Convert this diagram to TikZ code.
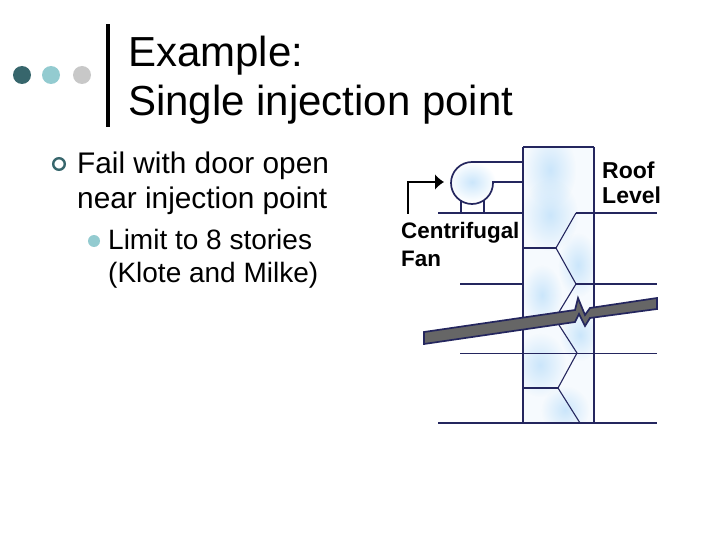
\documentclass[tikz,border=0pt]{standalone}
\usepackage{fontspec}
\usetikzlibrary{fadings,arrows.meta}
\setmainfont{Liberation Sans}
\definecolor{dotdark}{HTML}{37666C}
\definecolor{dotmid}{HTML}{93CBD0}
\definecolor{dotgrey}{HTML}{C8C8C8}
\definecolor{navy}{HTML}{24265E}
\definecolor{band}{HTML}{666666}
\definecolor{haze}{HTML}{CBE6FB}
\tikzfading[name=fuzz,inner color=transparent!0,outer color=transparent!100]
\tikzset{
  titletext/.style={anchor=base west,inner sep=0pt,font=\fontsize{42}{42}\selectfont},
  bodytext/.style={anchor=base west,inner sep=0pt,font=\fontsize{29.8}{30}\selectfont},
  subtext/.style={anchor=base west,inner sep=0pt,font=\fontsize{28}{28}\selectfont},
  figtext/.style={anchor=base west,inner sep=0pt,font=\bfseries\fontsize{22.4}{22.4}\selectfont},
  wall/.style={navy,line width=1.7pt},
  thinwall/.style={navy,line width=1.1pt},
  blur/.style={fill=haze,path fading=fuzz,draw=none}
}
\begin{document}
\begin{tikzpicture}[x=1pt,y=-1pt]
\useasboundingbox (0,0) rectangle (720,540);

% header
\fill[dotdark] (22,75) circle (9);
\fill[dotmid] (51,75) circle (9);
\fill[dotgrey] (82,75) circle (9);
\fill[black] (106,24) rectangle (110,127);
\node[titletext] (title1) at (128,67) {Example:};
\node[titletext] (title2) at (128,116) {Single injection point};

% bullets
\draw[dotdark,line width=2.4pt] (59,164) circle (5.8);
\node[bodytext] (fail1) at (77,174) {Fail with door open};
\node[bodytext] (fail2) at (77,209) {near injection point};
\fill[dotmid] (94,241) circle (6);
\node[subtext] (limit1) at (108,249) {Limit to 8 stories};
\node[subtext] (limit2) at (108,282) {(Klote and Milke)};

% haze in shaft and fan
\fill[haze!18] (523,147) rectangle (594,423);
\begin{scope}
\clip (523,147) rectangle (594,423);
\path[blur] (550,170) ellipse (26 and 38);
\path[blur] (550,215) ellipse (28 and 36);
\path[blur] (578,265) ellipse (20 and 32);
\path[blur] (542,295) ellipse (20 and 30);
\path[blur] (580,335) ellipse (20 and 26);
\path[blur] (540,365) ellipse (26 and 32);
\path[blur] (565,410) ellipse (24 and 24);
\end{scope}
\path[blur] (472,182) ellipse (24 and 20);

% shaft
\draw[wall] (523,147) -- (594,147);
\draw[wall] (523,147) -- (523,423);
\draw[wall] (594,147) -- (594,423);

% fan and duct
\draw[wall] (523,162) -- (472,162) arc[start angle=-90,end angle=-360,radius=21] -- (493,182) -- (523,182);
\draw[wall] (461,200) -- (461,213);
\draw[wall] (484,200) -- (484,213);

% floors
\draw[wall] (438,213) -- (523,213);
\draw[wall] (576,213) -- (657,213);
\draw[wall] (460,284) -- (523,284);
\draw[wall] (576,284) -- (657,284);
\draw[navy,line width=0.9pt] (460,353) -- (657,353);
\draw[wall] (438,423) -- (657,423);

% doors
\draw[wall] (523,248) -- (556,248);
\draw[thinwall] (576,213) -- (556,248) -- (576,284) -- (559,312);
\draw[thinwall] (559,325) -- (577,353) -- (558,388) -- (580,423);
\draw[wall] (523,388) -- (558,388);

% band with crack
\draw[navy,line width=1.7pt,fill=band] (424,332) -- (575,310) -- (578,298) -- (585,315) -- (590,308)
  -- (657,298) -- (657,309) -- (590,318) -- (585,326) -- (579,314) -- (575,322) -- (424,344) -- cycle;

% arrow
\coordinate (fanin) at (408,214);
\coordinate (fantip) at (444,182);
\draw[black,line width=1.6pt,-{Latex[length=9pt,width=16pt]}] (fanin) |- (fantip);

% figure labels
\node[figtext,font=\bfseries\fontsize{23}{23}\selectfont] (roof) at (602,179) {Roof};
\node[figtext,font=\bfseries\fontsize{23}{23}\selectfont] (level) at (602,204) {Level};
\node[figtext] (centrifugal) at (401,239) {Centrifugal};
\node[figtext] (fan) at (401,266) {Fan};
\end{tikzpicture}
\end{document}
